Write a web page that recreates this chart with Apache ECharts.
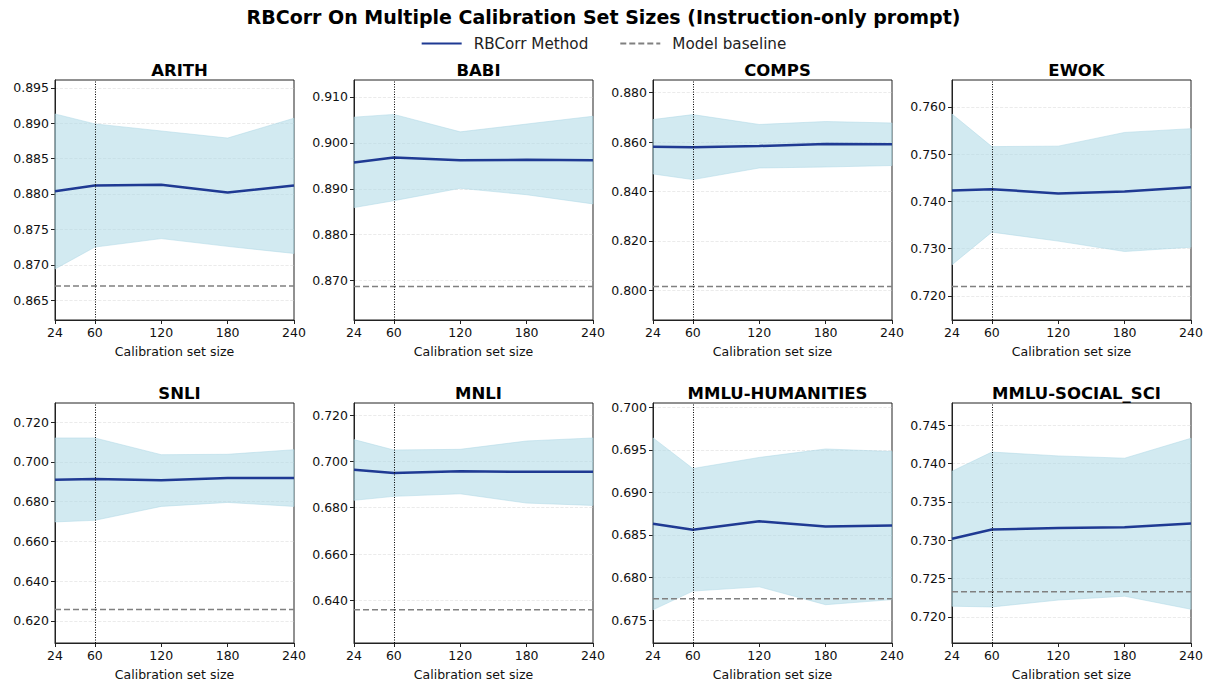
<!DOCTYPE html>
<html>
<head>
<meta charset="utf-8">
<title>RBCorr On Multiple Calibration Set Sizes</title>
<script src="https://cdn.jsdelivr.net/npm/echarts@6/dist/echarts.min.js"></script>
<style>
  html, body { margin: 0; padding: 0; background: #fff; }
  #chart { width: 1207px; height: 686px; }
</style>
</head>
<body>
<div id="chart"></div>
<script>
// Calibration set sizes on the x axis
const calibrationSizes = [24, 60, 120, 180, 240];
const xTicks = [24, 60, 120, 180, 240];

// Task names, one panel each (row-major, 4 per row)
const tasks = ['ARITH', 'BABI', 'COMPS', 'EWOK', 'SNLI', 'MNLI', 'MMLU-HUMANITIES', 'MMLU-SOCIAL_SCI'];

// RBCorr mean score per task
const rbcorrMean = [
  [0.8804, 0.8812, 0.8813, 0.8802, 0.8812],
  [0.8957, 0.8968, 0.8962, 0.8963, 0.8962],
  [0.8581, 0.8579, 0.8584, 0.8592, 0.8591],
  [0.7423, 0.7426, 0.7417, 0.7421, 0.7430],
  [0.6910, 0.6914, 0.6908, 0.6919, 0.6919],
  [0.6964, 0.6950, 0.6957, 0.6955, 0.6955],
  [0.6863, 0.6856, 0.6866, 0.6860, 0.6861],
  [0.7302, 0.7314, 0.7316, 0.7317, 0.7322]
];

// Upper edge of the RBCorr spread
const rbcorrUpper = [
  [0.8913, 0.8899, 0.8889, 0.8879, 0.8907],
  [0.9056, 0.9062, 0.9024, 0.9041, 0.9058],
  [0.8691, 0.8711, 0.8671, 0.8683, 0.8677],
  [0.7585, 0.7516, 0.7517, 0.7546, 0.7554],
  [0.7120, 0.7120, 0.7036, 0.7038, 0.7061],
  [0.7094, 0.7049, 0.7052, 0.7088, 0.7101],
  [0.6964, 0.6928, 0.6941, 0.6951, 0.6948],
  [0.7390, 0.7415, 0.7410, 0.7407, 0.7433]
];

// Lower edge of the RBCorr spread
const rbcorrLower = [
  [0.8694, 0.8725, 0.8737, 0.8726, 0.8716],
  [0.8859, 0.8874, 0.8901, 0.8887, 0.8867],
  [0.8471, 0.8448, 0.8495, 0.8499, 0.8505],
  [0.7266, 0.7335, 0.7316, 0.7294, 0.7303],
  [0.6698, 0.6706, 0.6776, 0.6796, 0.6776],
  [0.6832, 0.6849, 0.6860, 0.6820, 0.6810],
  [0.6762, 0.6784, 0.6789, 0.6768, 0.6774],
  [0.7214, 0.7213, 0.7222, 0.7227, 0.7210]
];

// Model baseline per task
const modelBaseline = [0.8670, 0.8687, 0.8016, 0.7220, 0.6257, 0.6360, 0.6775, 0.7233];

// Y axis extents and tick labels per task
const yMin = [0.8622, 0.8614, 0.7880, 0.7149, 0.6089, 0.6216, 0.6723, 0.7166];
const yMax = [0.8961, 0.9137, 0.8851, 0.7657, 0.7296, 0.7252, 0.7005, 0.7479];
const yTicks = [
  [0.865, 0.870, 0.875, 0.880, 0.885, 0.890, 0.895],
  [0.870, 0.880, 0.890, 0.900, 0.910],
  [0.800, 0.820, 0.840, 0.860, 0.880],
  [0.720, 0.730, 0.740, 0.750, 0.760],
  [0.620, 0.640, 0.660, 0.680, 0.700, 0.720],
  [0.640, 0.660, 0.680, 0.700, 0.720],
  [0.675, 0.680, 0.685, 0.690, 0.695, 0.700],
  [0.720, 0.725, 0.730, 0.735, 0.740, 0.745]
];

const FONT = 'DejaVu Sans';
const colLeft = [55, 354, 653, 952];
const rowTop = [80, 403];
const panelW = 239, panelH = 240;

const grids = [], xAxes = [], yAxes = [], series = [], titles = [];

// Shaded spread between lower and upper edges, drawn as one polygon per panel
function spreadRenderer(i) {
  return function (params, api) {
    if (params.dataIndex !== 0) return null;
    const top = calibrationSizes.map((x, k) => api.coord([x, rbcorrUpper[i][k]]));
    const bottom = calibrationSizes.map((x, k) => api.coord([x, rbcorrLower[i][k]])).reverse();
    return {
      type: 'polygon',
      shape: { points: top.concat(bottom) },
      style: { fill: 'rgba(173,216,230,0.55)', stroke: 'rgba(173,216,230,0.5)', lineWidth: 1 }
    };
  };
}

tasks.forEach((name, i) => {
  const col = i % 4, row = Math.floor(i / 4);
  grids.push({
    left: colLeft[col], top: rowTop[row], width: panelW, height: panelH,
    show: true, borderColor: '#222', borderWidth: 1, backgroundColor: 'transparent'
  });
  xAxes.push({
    gridIndex: i, type: 'value', min: 24, max: 240,
    name: 'Calibration set size', nameLocation: 'middle', nameGap: 25,
    nameTextStyle: { fontFamily: FONT, fontSize: 12.5, color: '#111' },
    axisLine: { show: true, lineStyle: { color: '#222', width: 1 } },
    axisTick: { show: true, inside: false, length: 4, customValues: xTicks, lineStyle: { color: '#222' } },
    axisLabel: { customValues: xTicks, fontFamily: FONT, fontSize: 12.5, color: '#111', margin: 6 },
    splitLine: { show: false }
  });
  yAxes.push({
    gridIndex: i, type: 'value', min: yMin[i], max: yMax[i],
    axisLine: { show: true, lineStyle: { color: '#222', width: 1 } },
    axisTick: { show: true, inside: false, length: 4, customValues: yTicks[i], lineStyle: { color: '#222' } },
    axisLabel: {
      customValues: yTicks[i], fontFamily: FONT, fontSize: 12.5, color: '#111', margin: 6,
      formatter: v => v.toFixed(3)
    },
    splitLine: { show: true, lineStyle: { color: '#e6e6e6', width: 0.8, type: 'dashed' } }
  });

  series.push({
    name: 'spread-' + i, type: 'custom', xAxisIndex: i, yAxisIndex: i,
    silent: true, z: 1,
    renderItem: spreadRenderer(i),
    encode: { x: 0, y: [1, 2] },
    data: calibrationSizes.map((x, k) => [x, rbcorrLower[i][k], rbcorrUpper[i][k]])
  });
  // model baseline
  series.push({
    name: 'Model baseline', type: 'line', xAxisIndex: i, yAxisIndex: i,
    symbol: 'none', silent: true, z: 3,
    lineStyle: { color: '#808080', width: 1.5, type: [6, 3] },
    itemStyle: { color: '#808080' },
    data: [[24, modelBaseline[i]], [240, modelBaseline[i]]]
  });
  // RBCorr mean line, with the default calibration size marked
  series.push({
    name: 'RBCorr Method', type: 'line', xAxisIndex: i, yAxisIndex: i,
    symbol: 'none', silent: true, z: 4,
    lineStyle: { color: '#1f3a93', width: 2.5 },
    itemStyle: { color: '#1f3a93' },
    data: calibrationSizes.map((x, k) => [x, rbcorrMean[i][k]]),
    markLine: {
      silent: true, symbol: 'none', animation: false,
      label: { show: false },
      lineStyle: { color: '#000', width: 1, type: [1, 1.5] },
      data: [{ xAxis: 60 }]
    }
  });

  titles.push({
    text: name,
    left: colLeft[col] + panelW / 2, top: rowTop[row] - 23,
    textAlign: 'center',
    textStyle: { fontFamily: FONT, fontSize: 16.5, fontWeight: 'bold', color: '#000' }
  });
});

titles.unshift({
  text: 'RBCorr On Multiple Calibration Set Sizes (Instruction-only prompt)',
  left: 'center', top: 2,
  textStyle: { fontFamily: FONT, fontSize: 19, fontWeight: 'bold', color: '#000' }
});

const chart = echarts.init(document.getElementById('chart'), null, { renderer: 'svg' });
chart.setOption({
  animation: false,
  backgroundColor: '#fff',
  title: titles,
  legend: {
    top: 31, left: 'center',
    data: ['RBCorr Method', 'Model baseline'],
    itemWidth: 40, itemHeight: 12, itemGap: 31,
    itemStyle: { opacity: 0 },
    textStyle: { fontFamily: FONT, fontSize: 15.2, color: '#222', padding: [0, 0, 0, 7] }
  },
  grid: grids,
  xAxis: xAxes,
  yAxis: yAxes,
  series: series
});
</script>
</body>
</html>
